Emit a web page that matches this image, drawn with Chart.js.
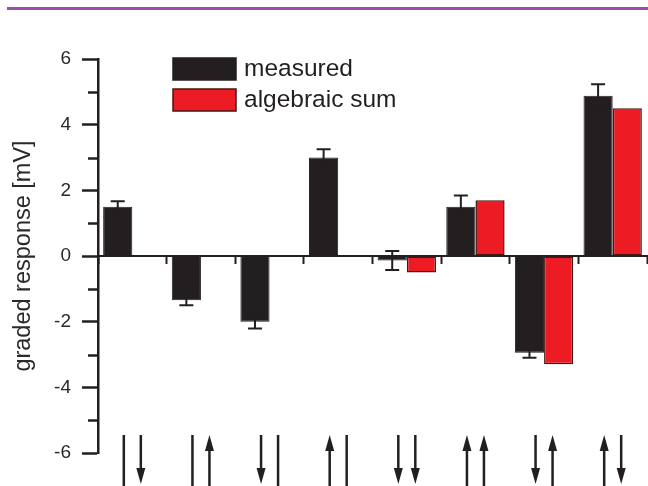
<!DOCTYPE html>
<html>
<head>
<meta charset="utf-8">
<script src="https://cdn.jsdelivr.net/npm/chart.js@4.4.1/dist/chart.umd.min.js"></script>
<style>
  html, body { margin: 0; padding: 0; background: #fff; }
  #wrap { position: relative; width: 648px; height: 486px; overflow: hidden; }
  #topline { position: absolute; left: 7px; top: 7px; width: 641px; height: 3px; background: #9c50ad; }
</style>
</head>
<body>
<div id="wrap">
  <div id="topline"></div>
  <canvas id="respChart"></canvas>
</div>
<script>
// stimulus pattern under each group: left glyph, right glyph (| = none, ↓ / ↑ = arrow)
var categories = ['|↓', '|↑', '↓|', '↑|', '↓↓', '↑↑', '↓↑', '↑↓'];
var measured = [1.5, -1.35, -2.0, 3.0, -0.14, 1.5, -2.95, 4.88];
var measuredErr = [0.17, 0.15, 0.21, 0.25, 0.29, 0.34, 0.15, 0.35];
var algebraicSum = [null, null, null, null, -0.5, 1.7, -3.3, 4.5];

var ink = '#231f20';

// error bars on the measured bars
var errorBars = {
    id: 'errorBars',
    afterDatasetsDraw: function (chart) {
        var ctx = chart.ctx;
        var y = chart.scales.y;
        var meta = chart.getDatasetMeta(0);
        ctx.save();
        ctx.strokeStyle = ink;
        ctx.lineWidth = 2;
        meta.data.forEach(function (bar, i) {
            var v = measured[i], e = measuredErr[i];
            var y1 = y.getPixelForValue(v + e);
            var y2 = y.getPixelForValue(v - e);
            ctx.beginPath();
            ctx.moveTo(bar.x, y1); ctx.lineTo(bar.x, y2);
            ctx.moveTo(bar.x - 7, y1); ctx.lineTo(bar.x + 7, y1);
            ctx.moveTo(bar.x - 7, y2); ctx.lineTo(bar.x + 7, y2);
            ctx.stroke();
        });
        ctx.restore();
    }
};

// minor ticks on the y axis (odd values)
var minorTicks = {
    id: 'minorTicks',
    afterDraw: function (chart) {
        var ctx = chart.ctx;
        var y = chart.scales.y;
        var left = chart.chartArea.left;
        ctx.save();
        ctx.strokeStyle = ink;
        ctx.lineWidth = 2.5;
        for (var v = -5; v <= 5; v += 2) {
            var py = Math.round(y.getPixelForValue(v)) + 0.5;
            ctx.beginPath();
            ctx.moveTo(left - 10, py);
            ctx.lineTo(left, py);
            ctx.stroke();
        }
        ctx.restore();
    }
};

// legend inside the plot
var boxLegend = {
    id: 'boxLegend',
    afterDraw: function (chart) {
        var ctx = chart.ctx;
        var items = [
            { text: 'measured', fill: ink, stroke: ink },
            { text: 'algebraic sum', fill: '#ed1c24', stroke: '#4a1515' }
        ];
        ctx.save();
        ctx.font = '24.5px Arial, "Liberation Sans", sans-serif';
        ctx.textBaseline = 'middle';
        items.forEach(function (it, i) {
            var top = 58 + i * 31;
            ctx.fillStyle = it.fill;
            ctx.fillRect(173, top, 63, 22);
            ctx.strokeStyle = it.stroke;
            ctx.lineWidth = 1.5;
            ctx.strokeRect(173, top, 63, 22);
            ctx.fillStyle = ink;
            ctx.fillText(it.text, 244, top + 11);
        });
        ctx.restore();
    }
};

// arrows / bars under each group
var stimulusGlyphs = {
    id: 'stimulusGlyphs',
    afterDraw: function (chart) {
        var ctx = chart.ctx;
        var x = chart.scales.x;
        var top = 435, bottom = 492, head = 16, half = 4.5;
        ctx.save();
        ctx.strokeStyle = ink;
        ctx.fillStyle = ink;
        ctx.lineWidth = 2.5;
        categories.forEach(function (label, i) {
            var cx = x.getPixelForValue(i);
            [label.charAt(0), label.charAt(1)].forEach(function (g, k) {
                var gx = cx + (k === 0 ? -8.5 : 8.5);
                ctx.beginPath();
                if (g === '↓') {
                    ctx.moveTo(gx, top); ctx.lineTo(gx, top + 40);
                    ctx.stroke();
                    ctx.beginPath();
                    ctx.moveTo(gx - half, top + 33); ctx.lineTo(gx + half, top + 33);
                    ctx.lineTo(gx, top + 33 + head); ctx.closePath();
                    ctx.fill();
                } else if (g === '↑') {
                    ctx.moveTo(gx, top + 10); ctx.lineTo(gx, bottom);
                    ctx.stroke();
                    ctx.beginPath();
                    ctx.moveTo(gx, top); ctx.lineTo(gx + half, top + head);
                    ctx.lineTo(gx - half, top + head); ctx.closePath();
                    ctx.fill();
                } else {
                    ctx.moveTo(gx, top); ctx.lineTo(gx, bottom);
                    ctx.stroke();
                }
            });
        });
        ctx.restore();
    }
};

var ctx = document.getElementById('respChart').getContext('2d');
var respChart = new Chart(ctx, {
    type: 'bar',
    plugins: [errorBars, minorTicks, boxLegend, stimulusGlyphs],
    data: {
        labels: categories,
        datasets: [{
            label: 'measured',
            data: measured,
            backgroundColor: ink,
            borderColor: ink,
            borderWidth: 1,
            categoryPercentage: 0.85,
            barPercentage: 1.0
        }, {
            label: 'algebraic sum',
            data: algebraicSum,
            backgroundColor: '#ed1c24',
            borderColor: '#4a1515',
            borderWidth: 1.5,
            borderSkipped: false,
            categoryPercentage: 0.85,
            barPercentage: 1.0
        }]
    },
    options: {
        responsive: true,
        maintainAspectRatio: false,
        animation: false,
        layout: { padding: { left: 0, right: 1, top: 59, bottom: 33 } },
        plugins: {
            legend: { display: false },
            tooltip: { enabled: false }
        },
        scales: {
            x: {
                position: { y: 0 },
                offset: true,
                ticks: { display: false },
                grid: {
                    offset: true,
                    drawOnChartArea: false,
                    tickLength: 7,
                    tickColor: ink,
                    tickWidth: 2
                },
                border: { color: ink, width: 2 }
            },
            y: {
                min: -6,
                max: 6,
                afterFit: function (scale) { scale.width = 98; },
                ticks: {
                    stepSize: 1,
                    padding: 11,
                    color: '#2a2a2a',
                    font: { size: 19, family: 'Arial, "Liberation Sans", sans-serif' },
                    callback: function (v) { return v % 2 === 0 ? String(v) : ''; }
                },
                grid: {
                    drawOnChartArea: false,
                    tickLength: 16,
                    tickWidth: 2.5,
                    tickColor: function (c) { return c.tick && c.tick.value % 2 === 0 ? ink : 'rgba(0,0,0,0)'; }
                },
                border: { color: ink, width: 2.5 },
                title: {
                    display: true,
                    text: 'graded response [mV]',
                    color: '#2a2a2a',
                    padding: { top: 9, bottom: 0 },
                    font: { size: 23.5, family: 'Arial, "Liberation Sans", sans-serif' }
                }
            }
        }
    }
});
</script>
</body>
</html>
